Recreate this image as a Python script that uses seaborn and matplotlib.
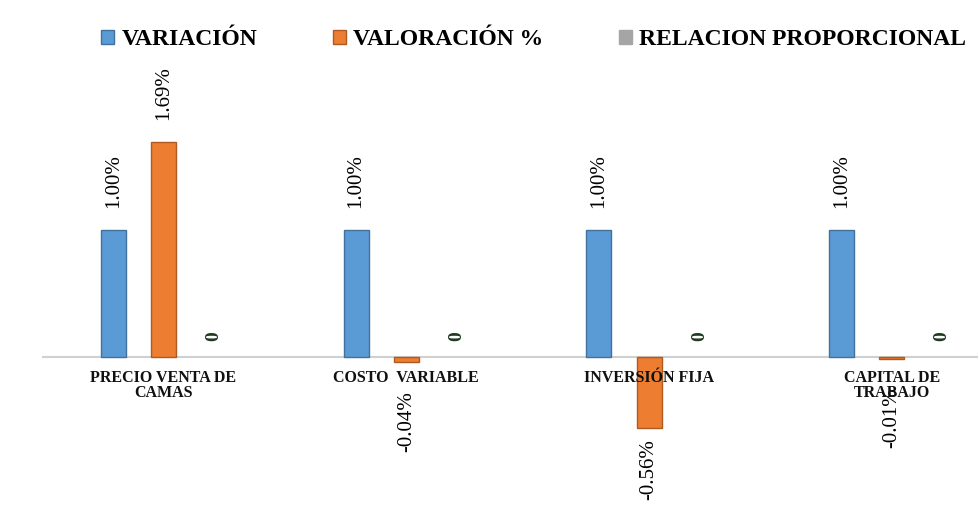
import pandas as pd
import numpy as np
import matplotlib.pyplot as plt
import seaborn as sns
from matplotlib.patches import Patch

# Data (values in %)
categorias = ['PRECIO VENTA DE\nCAMAS', 'COSTO  VARIABLE', 'INVERSIÓN FIJA', 'CAPITAL DE\nTRABAJO']
series = ['VARIACIÓN', 'VALORACIÓN %', 'RELACION PROPORCIONAL']
variacion = [1.00, 1.00, 1.00, 1.00]
valoracion = [1.69, -0.04, -0.56, -0.01]
relacion = [0, 0, 0, 0]

colores = ['#5B9BD5', '#ED7D31', '#A5A5A5']
bordes = ['#41719C', '#AE5A21', '#A5A5A5']

df = pd.DataFrame({
    'categoria': categorias * 3,
    'serie': [series[0]] * 4 + [series[1]] * 4 + [series[2]] * 4,
    'valor': variacion + valoracion + relacion,
})

sns.set_theme(style='white')
plt.rcParams['font.family'] = ['Liberation Serif', 'DejaVu Serif']
plt.rcParams['text.color'] = 'black'

fig = plt.figure(figsize=(9.79, 5.15), dpi=100)
ax = fig.add_axes([0.043, 0.01, 0.992, 0.874])

sns.barplot(data=df, x='categoria', y='valor', hue='serie', hue_order=series,
            order=categorias, palette=colores, saturation=1, width=0.62, gap=0.5,
            linewidth=1, legend=False, ax=ax)

for cont, borde in zip(ax.containers, bordes):
    for bar in cont:
        bar.set_edgecolor(borde)
        if bar.get_height() == 0:
            bar.set_linewidth(0)

# Data labels
for i, cont in enumerate(ax.containers):
    for bar in cont:
        h = bar.get_height()
        x = bar.get_x() + bar.get_width() / 2
        if i == 2:
            ax.annotate('0', (x, 0), xytext=(0, 12), textcoords='offset points',
                        rotation=90, ha='center', va='bottom', fontsize=14,
                        fontweight='bold', color='#1f3a1f')
        elif h >= 0:
            ax.annotate(f'{h:.2f}%', (x, h), xytext=(0, 16), textcoords='offset points',
                        rotation=90, ha='center', va='bottom', fontsize=15, color='black')
        else:
            # small bars: label pushed below the category text, like the original
            off = -21 if abs(h) < 0.1 else -8
            ax.annotate(f'{h:.2f}%', (x, h), xytext=(0, off), textcoords='offset points',
                        rotation=90, ha='center', va='top', fontsize=15, color='black')

ax.axhline(0, color='#d0d0d0', lw=1.5, zorder=0)
ax.set_ylim(-1.2, 2.34)
ax.set_xlim(-0.5, 3.5)
ax.set_yticks([])
ax.set_xticks([])
ax.set_xlabel('')
ax.set_ylabel('')
sns.despine(ax=ax, left=True, bottom=True)

# category labels just under the zero line
for j, cat in enumerate(categorias):
    ax.annotate(cat, (j, 0), xytext=(0, -9), textcoords='offset points',
                ha='center', va='top', fontsize=11.5, fontweight='bold',
                linespacing=0.95, color='#111111')

handles = [Patch(facecolor=c, edgecolor=b, label=s) for c, b, s in zip(colores, bordes, series)]
fig.legend(handles=handles, loc='upper center', bbox_to_anchor=(0.545, 0.985), ncol=3,
           frameon=False, handlelength=0.55, handleheight=0.55, handletextpad=0.3,
           columnspacing=3.2, labelcolor='black',
           prop={'family': 'Liberation Serif', 'weight': 'bold', 'size': 17})

fig.savefig('out.png', dpi=100)
